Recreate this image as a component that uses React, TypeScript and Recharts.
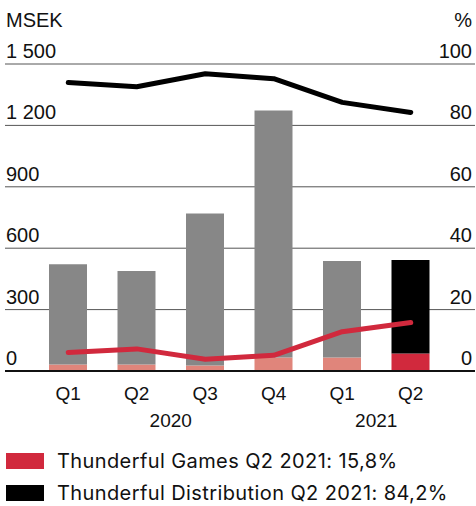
import { ComposedChart, Bar, Line, XAxis, YAxis, CartesianGrid, Cell } from "recharts";

const quarters = ["Q1", "Q2", "Q3", "Q4", "Q1", "Q2"];
const years = ["2020", "2020", "2020", "2020", "2021", "2021"];
// MSEK, stacked: games part at the bottom, distribution on top
const gamesSek = [32, 32, 27, 66, 66, 86];
const distributionSek = [490, 456, 743, 1207, 471, 456];
// share of net sales, %
const gamesPct = [6, 7.2, 3.8, 5.1, 12.8, 15.8];
const distributionPct = [94, 92.6, 96.8, 95.2, 87.5, 84.2];

const leftTicks = [0, 300, 600, 900, 1200, 1500];
const rightTicks = [0, 20, 40, 60, 80, 100];

const FONT = "'Liberation Sans', Arial, sans-serif";
const LEGEND_FONT = "Inter, 'Liberation Sans', sans-serif";

const data = quarters.map((q, i) => ({
  q,
  year: years[i],
  games: gamesSek[i],
  dist: distributionSek[i],
  gPct: gamesPct[i],
  dPct: distributionPct[i],
}));

const fmt = (v: number) => (v >= 1000 ? `${Math.floor(v / 1000)} ${String(v % 1000).padStart(3, "0")}` : String(v));

const LeftTick = (props: any) => (
  <text x={6} y={props.y - 6} fontSize={20} fontFamily={FONT} fill="#111">
    {fmt(props.payload.value)}
  </text>
);

const RightTick = (props: any) => (
  <text x={472} y={props.y - 6} fontSize={20} fontFamily={FONT} fill="#111" textAnchor="end">
    {props.payload.value}
  </text>
);

const QuarterTick = (props: any) => {
  const { x, y, index } = props;
  const showYear = index === 1 || index === 4;
  return (
    <g>
      <text x={x} y={y + 27} fontSize={19} fontFamily={FONT} fill="#111" textAnchor="middle">
        {props.payload.value}
      </text>
      {showYear && (
        <text x={x + 34} y={y + 54} fontSize={19} fontFamily={FONT} fill="#111" textAnchor="middle">
          {years[index]}
        </text>
      )}
    </g>
  );
};

export default function App() {
  return (
    <div style={{ position: "absolute", left: 0, top: 0, width: 476, height: 506, background: "#fff" }}>
      <div style={{ position: "absolute", left: 6, top: 9, fontSize: 20, fontFamily: FONT, color: "#111" }}>MSEK</div>
      <div style={{ position: "absolute", right: 4, top: 9, fontSize: 20, fontFamily: FONT, color: "#111" }}>%</div>
      <ComposedChart
        width={476}
        height={440}
        data={data}
        margin={{ top: 64, right: 0, bottom: 9, left: 4 }}
        barCategoryGap={0}
      >
        <CartesianGrid yAxisId="sek" horizontal vertical={false} stroke="#555" strokeWidth={1} />
        <XAxis
          dataKey="q"
          height={60}
          tickSize={0}
          tickLine={false}
          axisLine={{ stroke: "#111", strokeWidth: 2 }}
          padding={{ left: 29, right: 30 }}
          tick={<QuarterTick />}
          interval={0}
        />
        <YAxis
          yAxisId="sek"
          width={1}
          domain={[0, 1500]}
          ticks={leftTicks}
          interval={0}
          axisLine={false}
          tickLine={false}
          tick={<LeftTick />}
        />
        <YAxis
          yAxisId="pct"
          orientation="right"
          width={1}
          domain={[0, 100]}
          ticks={rightTicks}
          interval={0}
          axisLine={false}
          tickLine={false}
          tick={<RightTick />}
        />
        <Bar dataKey="games" yAxisId="sek" stackId="a" barSize={38} isAnimationActive={false}>
          {data.map((_, i) => (
            <Cell key={i} fill={i === data.length - 1 ? "#d1293d" : "#e0857b"} />
          ))}
        </Bar>
        <Bar dataKey="dist" yAxisId="sek" stackId="a" barSize={38} isAnimationActive={false}>
          {data.map((_, i) => (
            <Cell key={i} fill={i === data.length - 1 ? "#000" : "#878787"} />
          ))}
        </Bar>
        <Line
          dataKey="dPct"
          yAxisId="pct"
          type="linear"
          stroke="#000"
          strokeWidth={5}
          strokeLinecap="round"
          strokeLinejoin="round"
          dot={false}
          activeDot={false}
          isAnimationActive={false}
        />
        <Line
          dataKey="gPct"
          yAxisId="pct"
          type="linear"
          stroke="#d1293d"
          strokeWidth={5}
          strokeLinecap="round"
          strokeLinejoin="round"
          dot={false}
          activeDot={false}
          isAnimationActive={false}
        />
      </ComposedChart>
      <div
        style={{
          position: "absolute",
          left: 6,
          top: 450,
          fontFamily: LEGEND_FONT,
          fontSize: 20,
          letterSpacing: 0.4,
          color: "#111",
        }}
      >
        <div style={{ display: "flex", alignItems: "center", height: 22 }}>
          <span style={{ width: 38, height: 16, background: "#d1293d", marginRight: 13 }} />
          Thunderful Games Q2 2021: 15,8%
        </div>
        <div style={{ display: "flex", alignItems: "center", height: 22, marginTop: 10 }}>
          <span style={{ width: 38, height: 16, background: "#000", marginRight: 13 }} />
          Thunderful Distribution Q2 2021: 84,2%
        </div>
      </div>
    </div>
  );
}
